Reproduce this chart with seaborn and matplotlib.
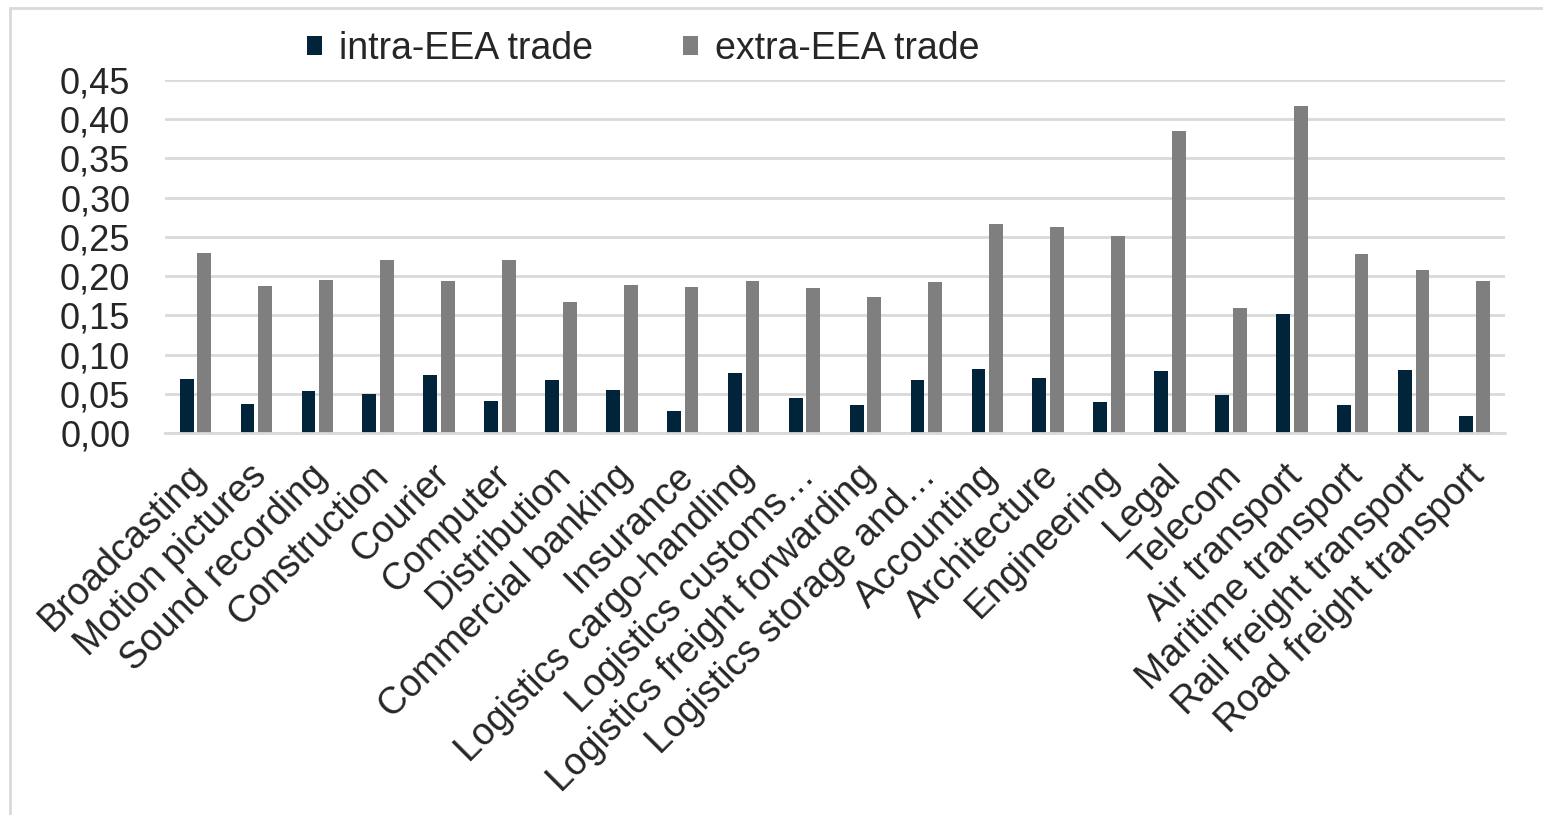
import pandas as pd
import seaborn as sns
import matplotlib.pyplot as plt
from matplotlib.lines import Line2D
from matplotlib.ticker import FuncFormatter
from matplotlib.transforms import ScaledTranslation

sectors = ['Broadcasting', 'Motion pictures', 'Sound recording', 'Construction',
           'Courier', 'Computer', 'Distribution', 'Commercial banking', 'Insurance',
           'Logistics cargo-handling', 'Logistics customs…', 'Logistics freight forwarding',
           'Logistics storage and…', 'Accounting', 'Architecture', 'Engineering', 'Legal',
           'Telecom', 'Air transport', 'Maritime transport', 'Rail freight transport',
           'Road freight transport']
intra_eea = [0.069, 0.037, 0.053, 0.050, 0.074, 0.041, 0.067, 0.055, 0.028,
             0.076, 0.045, 0.036, 0.067, 0.082, 0.070, 0.040, 0.079, 0.049,
             0.152, 0.036, 0.080, 0.022]
extra_eea = [0.229, 0.187, 0.195, 0.220, 0.194, 0.220, 0.167, 0.189, 0.186,
             0.194, 0.185, 0.174, 0.192, 0.267, 0.263, 0.251, 0.385, 0.159,
             0.417, 0.228, 0.208, 0.194]

df = pd.concat([
    pd.DataFrame({'sector': sectors, 'value': intra_eea, 'trade': 'intra-EEA trade'}),
    pd.DataFrame({'sector': sectors, 'value': extra_eea, 'trade': 'extra-EEA trade'}),
], ignore_index=True)

sns.set_style('white')
plt.rcParams['font.family'] = ['Liberation Sans', 'DejaVu Sans']

fig = plt.figure(figsize=(15.43, 8.15), dpi=100)
ax = fig.add_axes([165 / 1543, 1 - 433 / 815, 1340 / 1543, 353 / 815])

sns.barplot(data=df, x='sector', y='value', hue='trade', order=sectors,
            palette=['#01243a', '#7f7f7f'], width=0.58, gap=0.22,
            saturation=1, edgecolor='none', legend=True, ax=ax)

ax.set_ylim(0, 0.45)
ax.set_yticks([i * 0.05 for i in range(10)])
ax.yaxis.set_major_formatter(FuncFormatter(lambda v, p: f'{v:.2f}'.replace('.', ',')))
ax.grid(axis='y', color='#d9d9d9', linewidth=2)
ax.set_axisbelow(True)
for s in ['top', 'right', 'left']:
    ax.spines[s].set_visible(False)
ax.spines['bottom'].set_color('#d9d9d9')
ax.spines['bottom'].set_linewidth(2)
ax.set_xlim(-0.5, len(sectors) - 0.5)
ax.set_xlabel('')
ax.set_ylabel('')
ax.tick_params(axis='y', labelsize=26, length=0, pad=25)
ax.tick_params(axis='x', labelsize=27, length=0, pad=18)
shift = ScaledTranslation(-8 / 100, 0, fig.dpi_scale_trans)
for lbl in ax.get_xticklabels():
    lbl.set_rotation(45)
    lbl.set_ha('right')
    lbl.set_rotation_mode('anchor')
    lbl.set_transform(lbl.get_transform() + shift)

# legend on top, square markers
handles, labels = ax.get_legend_handles_labels()
ax.get_legend().remove()
fig.legend(handles, labels, loc='center', bbox_to_anchor=(643 / 1543, 1 - 49 / 815),
           ncol=2, frameon=False, fontsize=27, handlelength=0.4, handleheight=0.4,
           handletextpad=0.45, columnspacing=2.4, borderaxespad=0)

# chart area border (top and left only visible)
fig.add_artist(Line2D([10 / 1543, 1], [1 - 8 / 815, 1 - 8 / 815], color='#d9d9d9', linewidth=2))
fig.add_artist(Line2D([10 / 1543, 10 / 1543], [0, 1 - 8 / 815], color='#d9d9d9', linewidth=2))

fig.savefig('out.png', dpi=100)
